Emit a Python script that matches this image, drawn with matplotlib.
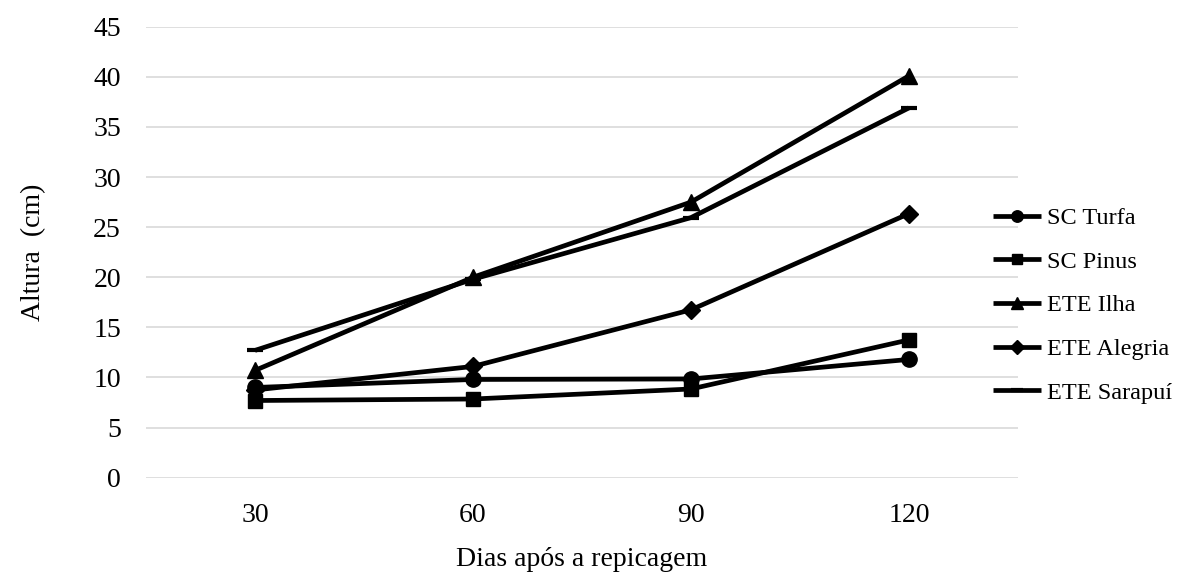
import matplotlib
matplotlib.use("Agg")
import matplotlib.pyplot as plt

days = ["30", "60", "90", "120"]
sc_turfa = [9.0, 9.8, 9.85, 11.8]
sc_pinus = [7.7, 7.85, 8.85, 13.75]
ete_ilha = [10.7, 20.0, 27.5, 40.1]
ete_alegria = [8.75, 11.1, 16.75, 26.35]
ete_sarapui = [12.7, 19.8, 25.95, 36.9]

series = [
    ("SC Turfa", sc_turfa, "o", 11),
    ("SC Pinus", sc_pinus, "s", 10.5),
    ("ETE Ilha", ete_ilha, "^", 11),
    ("ETE Alegria", ete_alegria, "D", 9.5),
    ("ETE Sarapuí", ete_sarapui, "_", 11),
]

plt.rcParams['font.family'] = ['Liberation Serif', 'DejaVu Serif']

fig = plt.figure(figsize=(11.83, 5.72), dpi=100)
ax = fig.add_axes([0.1234, 0.1649, 0.8605 - 0.1234, 0.9533 - 0.1649])

x = list(range(len(days)))
handles = []
for name, vals, mk, ms in series:
    h, = ax.plot(x, vals, color="black", lw=3.4, marker=mk, markersize=ms,
                 markeredgewidth=3 if mk == "_" else 1, solid_capstyle="butt",
                 label=name)
    handles.append(h)

ax.set_xlim(-0.5, len(days) - 0.5)
ax.set_ylim(0, 45)
ax.set_yticks(range(0, 46, 5))
ax.set_xticks(x)
ax.set_xticklabels(days)
ax.tick_params(axis="both", length=0, labelsize=20)
ax.tick_params(axis="x", pad=18)
ax.tick_params(axis="y", pad=18)
ax.yaxis.grid(True, color="#d9d9d9", lw=1.2)
ax.set_axisbelow(True)
for s in ax.spines.values():
    s.set_visible(False)

ax.set_xlabel("Dias após a repicagem", fontsize=20, labelpad=14)
ax.set_ylabel("Altura  (cm)", fontsize=20, labelpad=34)

leg = fig.legend(handles=handles, loc="center left", bbox_to_anchor=(0.8394, 0.466),
                 frameon=False, fontsize=17.5, handlelength=1.97, handletextpad=0.25,
                 labelspacing=0.89, borderaxespad=0, borderpad=0, markerscale=0.75)

fig.savefig("out.png", dpi=100)
